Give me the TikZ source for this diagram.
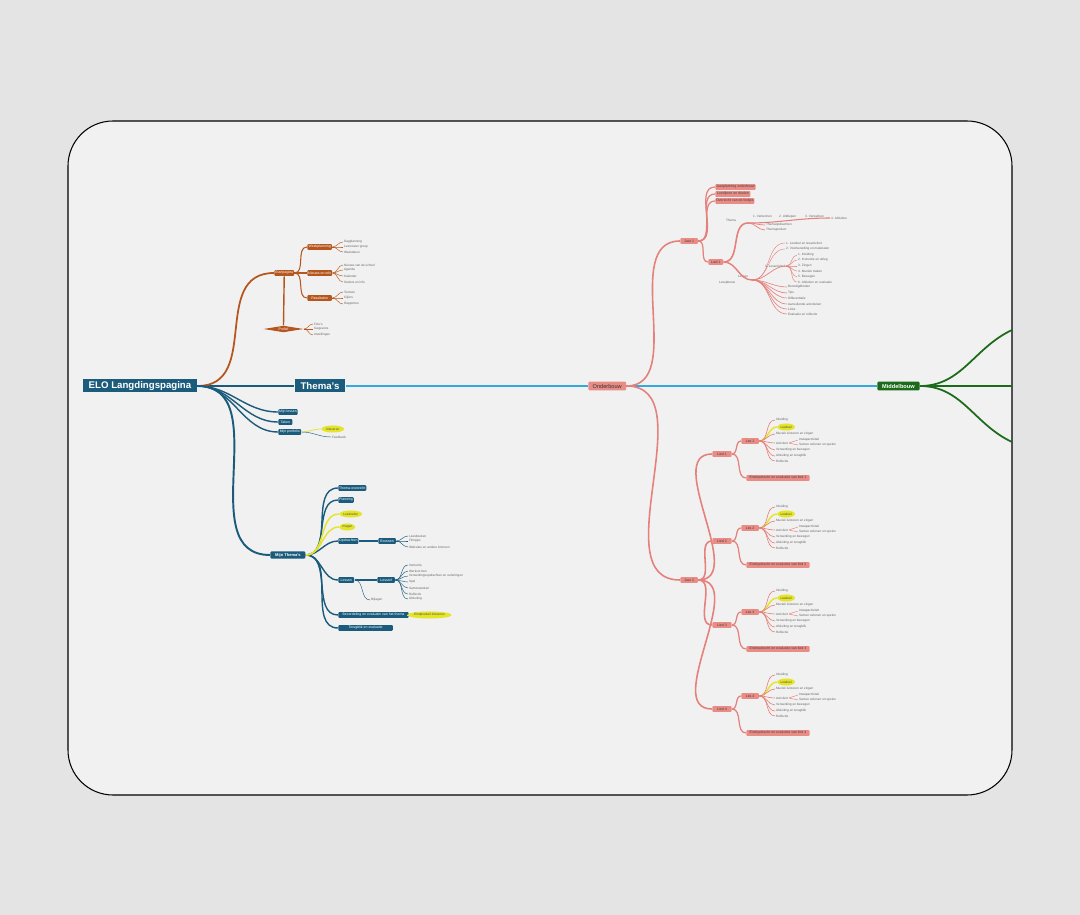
\documentclass[tikz,border=0pt]{standalone}
\usepackage{fontspec}
\setmainfont{Liberation Sans}
\usetikzlibrary{shapes.geometric}
\definecolor{buiten}{HTML}{E4E4E4}
\definecolor{kaart}{HTML}{F1F1F1}
\definecolor{eloblue}{HTML}{1B5B7C}
\definecolor{lichtblauw}{HTML}{35A8DC}
\definecolor{elobrown}{HTML}{B6561F}
\definecolor{roze}{HTML}{E5807B}
\definecolor{rozevul}{HTML}{EA8C86}
\definecolor{elogroen}{HTML}{1B6B1B}
\definecolor{elogeel}{HTML}{E4E42A}
\tikzset{
  box/.style={rounded corners=0.6pt, inner sep=0.5pt, minimum height=3.4pt, anchor=west,
    font=\fontsize{2}{2.2}\selectfont, text=white},
  hoofd/.style={fill=eloblue, text=white, inner sep=1pt, minimum height=7.4pt,
    font=\bfseries\fontsize{5.5}{6}\selectfont},
  bbox/.style={box, fill=elobrown},
  tbox/.style={box, fill=eloblue},
  pbox/.style={box, fill=rozevul, text=black!75},
  leaf/.style={anchor=west, inner sep=0.4pt, font=\fontsize{1.8}{2}\selectfont, text=black!60},
  geel/.style={ellipse, fill=elogeel, inner sep=0.2pt, minimum height=4pt, anchor=west,
    font=\fontsize{1.8}{2}\selectfont, text=black!70},
  bruintak/.style={draw=elobrown, line width=0.8pt},
  blauwtak/.style={draw=eloblue, line width=0.8pt},
  rozetak/.style={draw=roze, line width=0.7pt},
  geeltak/.style={draw=elogeel, line width=0.8pt},
  fijn/.style={line width=0.25pt},
}
\begin{document}
\begin{tikzpicture}[x=0.02cm, y=-0.02cm]
\fill[buiten] (0,0) rectangle (1080,915);
\draw[line width=0.6pt, fill=kaart, rounded corners=0.9cm] (68,121) rectangle (1012,795);

% hoofdlijn
\node[hoofd, minimum width=65pt] (elo) at (140,386) {ELO Langdingspagina};
\node[hoofd, minimum width=29pt] (thema) at (320,386) {Thema's};
\node[box, fill=rozevul, text=black!80, minimum width=21.5pt, minimum height=5pt,
  font=\fontsize{3.2}{3.4}\selectfont] (onder) at (588,386) {Onderbouw};
\node[box, fill=elogroen, minimum width=24pt, minimum height=5pt,
  font=\bfseries\fontsize{3.2}{3.4}\selectfont] (midden) at (877,386) {Middelbouw};
\draw[blauwtak, line width=1.1pt] (elo.east) -- (thema.west);
\draw[draw=lichtblauw, line width=1pt] (thema.east) -- (onder.west);
\draw[draw=lichtblauw, line width=1pt] (onder.east) -- (midden.west);
\coordinate (groen1) at (1012,330);
\coordinate (groen2) at (1012,386);
\coordinate (groen3) at (1012,442);
\draw[draw=elogroen, line width=1pt] (midden.east) to[out=0,in=205] (groen1);
\draw[draw=elogroen, line width=1pt] (midden.east) -- (groen2);
\draw[draw=elogroen, line width=1pt] (midden.east) to[out=0,in=155] (groen3);

% bruine tak
\node[bbox, minimum width=11pt] (start) at (274,273) {Startpagina};
\draw[bruintak, line width=1pt] (elo.east) to[out=0,in=180,looseness=1.2] (start.west);
\foreach \t/\y [count=\i] in {Weekplanning/247, Nieuws en info/273, Resultaten/298}{
  \node[bbox, minimum width=14pt] (sub\i) at (307,\y) {\t};
  \draw[bruintak, line width=0.6pt] (start.east) to[out=0,in=180] (sub\i.west);
}
\foreach \t/\y [count=\i] in {Dagplanning/242, Lesrooster groep/247, Weektaken/252}{
  \node[leaf] (wk\i) at (343,\y) {\t};
  \draw[bruintak, fijn] (sub1.east) to[out=0,in=180] (wk\i.west);
}
\foreach \t/\y [count=\i] in {Nieuws van de school/265, Agenda/270, Kalender/276, Ouders en info/282}{
  \node[leaf] (nw\i) at (343,\y) {\t};
  \draw[bruintak, fijn] (sub2.east) to[out=0,in=180] (nw\i.west);
}
\foreach \t/\y [count=\i] in {Toetsen/292, Cijfers/298, Rapporten/304}{
  \node[leaf] (rs\i) at (343,\y) {\t};
  \draw[bruintak, fijn] (sub3.east) to[out=0,in=180] (rs\i.west);
}
\node[diamond, aspect=6, fill=elobrown, inner sep=0.6pt, text=white, minimum width=17pt,
  font=\fontsize{2}{2.2}\selectfont] (profiel) at (283.5,329) {Profiel};
\draw[bruintak] (start.south) -- (profiel.north);
\foreach \t/\y [count=\i] in {Foto's/324, Gegevens/329, Instellingen/335}{
  \node[leaf] (pf\i) at (313,\y) {\t};
  \draw[bruintak, fijn] (profiel.east) to[out=0,in=180] (pf\i.west);
}

% blauwe takken
\foreach \t/\y/\w [count=\i] in {Mijn lessen/412/11, Taken/422/8, Mijn portfolio/432/13}{
  \node[tbox, minimum width=\w pt] (mijn\i) at (278,\y) {\t};
  \draw[blauwtak] (elo.east) to[out=0,in=180] (mijn\i.west);
}
\node[geel, minimum width=13pt] (inlever) at (321,429) {Inleveren};
\draw[geeltak, line width=0.4pt] (mijn3.east) to[out=0,in=180] (inlever.west);
\node[leaf] (feedback) at (331,437) {Feedback};
\draw[blauwtak, fijn] (mijn3.east) to[out=0,in=180] (feedback.west);

\node[tbox, minimum width=20pt, minimum height=4pt,
  font=\bfseries\fontsize{2.3}{2.5}\selectfont] (mijnthema) at (270,555) {Mijn Thema's};
\draw[blauwtak, line width=1.1pt] (elo.east) to[out=0,in=180,looseness=1.1] (mijnthema.west);
\node[tbox, minimum width=14pt] (overzicht) at (338,488) {Thema-overzicht};
\node[tbox, minimum width=6pt] (planning) at (338,500) {Planning};
\node[geel, minimum width=13pt] (doelen) at (339,514) {Lesdoelen};
\node[geel, minimum width=9pt] (vragen) at (339,527) {Vragen};
\node[tbox, minimum width=9pt] (opdr) at (338,541) {Opdrachten};
\node[tbox, minimum width=9pt] (lessen) at (338,580) {Lessen};
\node[tbox, minimum width=40pt] (beoordeling) at (338,615) {Beoordeling en evaluatie van het thema};
\node[tbox, minimum width=31pt] (terugblik) at (338,628) {Terugblik en evaluatie};
\foreach \n in {overzicht,planning,opdr,lessen,beoordeling,terugblik}
  \draw[blauwtak] (mijnthema.east) to[out=0,in=180] (\n.west);
\foreach \n in {doelen,vragen}
  \draw[geeltak] (mijnthema.east) to[out=0,in=180] (\n.west);
\node[tbox, minimum width=10pt] (bronnen) at (378,541) {Bronnen};
\draw[blauwtak, line width=0.6pt] (opdr.east) -- (bronnen.west);
\foreach \t/\y [count=\i] in {Leesboeken/536, Filmpjes/541, Websites en andere bronnen/547}{
  \node[leaf] (br\i) at (408,\y) {\t};
  \draw[blauwtak, fijn] (bronnen.east) to[out=0,in=180] (br\i.west);
}
\node[tbox, minimum width=10pt] (lesstof) at (377,580) {Lesstof};
\draw[blauwtak, line width=0.6pt] (lessen.east) -- (lesstof.west);
\foreach \t/\y [count=\i] in {Instructie/565, Werkvormen/571, Verwerkingsopdrachten en oefeningen/576,
    Spel/582, Samenwerken/588, Reflectie/594, Afsluiting/599}{
  \node[leaf] (ls\i) at (408,\y) {\t};
  \draw[blauwtak, fijn] (lesstof.east) to[out=0,in=180] (ls\i.west);
}
\node[leaf] (bijlagen) at (370,600) {Bijlagen};
\draw[blauwtak, fijn] (lessen.east) to[out=0,in=180] (bijlagen.west);
\node[geel, minimum width=23pt] (eindproduct) at (407,615) {Eindproduct inleveren};
\draw[geeltak, line width=0.4pt] (beoordeling.east) -- (eindproduct.west);

% onderbouw: jaar 1
\node[pbox, minimum width=10pt] (jaar1) at (680,241) {Jaar 1};
\node[pbox, minimum width=10pt] (jaar2) at (680,580) {Jaar 2};
\draw[rozetak, line width=0.9pt] (onder.east) to[out=0,in=180] (jaar1.west);
\draw[rozetak, line width=0.9pt] (onder.east) to[out=0,in=180] (jaar2.west);
\foreach \t/\y [count=\i] in {Jaarplanning onderbouw/187, Leerlijnen en doelen/194, Overzicht van de liedjes/201}{
  \node[pbox, minimum width=20pt] (info\i) at (715,\y) {\t};
  \draw[rozetak] (jaar1.east) to[out=0,in=180] (info\i.west);
}
\node[pbox, minimum width=8.5pt] (lied0) at (708,262) {Lied 1};
\draw[rozetak] (jaar1.east) to[out=0,in=180] (lied0.west);
\node[leaf] (thm) at (725,220) {Thema};
\coordinate (hub1) at (748,223);
\draw[rozetak, line width=0.9pt] (lied0.east) to[out=0,in=180] (hub1);
\foreach \t/\x [count=\i] in {1. Verkennen/752, 2. Uitdiepen/778, 3. Verwerken/804}
  \node[leaf, anchor=south west] (stap\i) at (\x,219) {\t};
\node[leaf] (stap4) at (830,218) {4. Afsluiten};
\draw[rozetak, line width=0.6pt] (hub1) to[out=0,in=180] (stap4.west);
\foreach \t/\y [count=\i] in {Themaopdrachten/225, Themaproduct/230}{
  \node[leaf] (tp\i) at (765,\y) {\t};
  \draw[rozetak, line width=0.4pt] (hub1) to[out=0,in=180] (tp\i.west);
}
\node[leaf] (lesn) at (737,276) {Lessen};
\node[leaf] (opbouw) at (718,283) {Lesopbouw};
\coordinate (hub2) at (752,280);
\draw[rozetak, line width=0.8pt] (lied0.east) to[out=0,in=180] (hub2);
\foreach \t/\y [count=\i] in {1. Lesdoel en lesactiviteit/243, 2. Voorbereiding en materialen/249}{
  \node[leaf] (vb\i) at (785,\y) {\t};
  \draw[roze, fijn] (hub2) to[out=0,in=180] (vb\i.west);
}
\node[leaf] (activ) at (764,266) {3. Lesactiviteit};
\draw[roze, line width=0.4pt] (hub2) to[out=0,in=180] (activ.east);
\foreach \t/\y [count=\i] in {1. Inleiding/255, 2. Instructie en uitleg/260, 3. Zingen/266,
    4. Muziek maken/271, 5. Bewegen/277, 6. Afsluiten en evaluatie/282}{
  \node[leaf] (as\i) at (797,\y) {\t};
  \draw[roze, fijn] (activ.east) to[out=0,in=180] (as\i.west);
}
\foreach \t/\y [count=\i] in {Benodigdheden/287, Tips/293, Differentiatie/298,
    Aanvullende activiteiten/304, Links/309, Evaluatie en reflectie/314}{
  \node[leaf] (ex\i) at (787,\y) {\t};
  \draw[roze, line width=0.35pt] (hub2) to[out=0,in=180] (ex\i.west);
}

% onderbouw: jaar 2
\foreach \g/\y in {1/454,2/541,3/625,4/709}{
  \node[pbox, minimum width=11pt] (lied\g) at (712,\y) {Lied \g};
  \node[pbox, minimum width=10pt] (les\g) at (741,{\y-13}) {Les \g};
  \node[pbox, minimum width=36pt] (eind\g) at (746,{\y+24}) {Eindopdracht en evaluatie van lied \g};
  \draw[rozetak, line width=0.9pt] (jaar2.east) to[out=0,in=180] (lied\g.west);
  \draw[rozetak] (lied\g.east) to[out=0,in=180] (les\g.west);
  \draw[rozetak] (lied\g.east) to[out=0,in=180] (eind\g.west);
  \node[geel, minimum width=10pt] (doel\g) at (777,{\y-27}) {Lesdoel};
  \draw[geeltak] (les\g.east) to[out=0,in=180] (doel\g.west);
  \foreach \t/\d [count=\i] in {Inleiding/-34, Muziek luisteren en zingen/-20, Activiteit/-11,
      Verwerking en bewegen/-4, Afsluiting en terugblik/2, Reflectie/7}{
    \node[leaf] (les\g-\i) at (775,{\y+\d}) {\t};
    \draw[roze, line width=0.35pt] (les\g.east) to[out=0,in=180] (les\g-\i.west);
  }
  \foreach \t/\d [count=\i] in {Instapactiviteit/-14, Samen oefenen en spelen/-9}{
    \node[leaf] (act\g-\i) at (798,{\y+\d}) {\t};
    \draw[roze, fijn] (les\g-3.east) to[out=0,in=180] (act\g-\i.west);
  }
}
\end{tikzpicture}
\end{document}
